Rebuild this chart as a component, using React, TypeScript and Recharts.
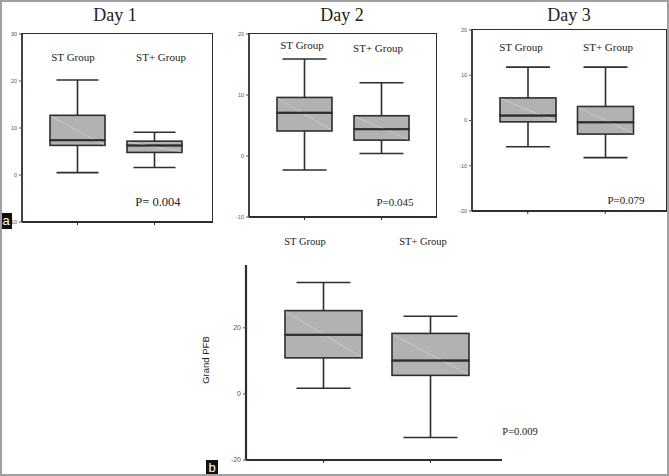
import { BarChart, Bar, XAxis, YAxis } from 'recharts'

const groups = ['ST Group', 'ST+ Group']

// Day 1
const day1Min = [0.5, 1.6]
const day1Q1 = [6.3, 4.8]
const day1Median = [7.4, 6.3]
const day1Q3 = [12.7, 7.2]
const day1Max = [20.2, 9.1]

// Day 2
const day2Min = [-2.3, 0.4]
const day2Q1 = [4.1, 2.6]
const day2Median = [7.1, 4.4]
const day2Q3 = [9.6, 6.6]
const day2Max = [15.9, 12.0]

// Day 3
const day3Min = [-5.8, -8.2]
const day3Q1 = [-0.3, -3.0]
const day3Median = [1.1, -0.4]
const day3Q3 = [5.0, 3.1]
const day3Max = [11.8, 11.8]

// Grand PFB
const grandMin = [1.7, -13.2]
const grandQ1 = [10.9, 5.6]
const grandMedian = [17.9, 10.1]
const grandQ3 = [25.2, 18.3]
const grandMax = [33.7, 23.5]

const INK = '#2e2e2e'
const BOX_FILL = '#b2b2b2'

type Row = { name: string; base: number; lowW: number; lowBox: number; highBox: number; highW: number }

function buildRows(min: number[], q1: number[], med: number[], q3: number[], max: number[]): Row[] {
  return groups.map((name, i) => ({
    name,
    base: min[i],
    lowW: q1[i] - min[i],
    lowBox: med[i] - q1[i],
    highBox: q3[i] - med[i],
    highW: max[i] - q3[i],
  }))
}

const lowWhisker = (cap: number) => (p: any) => {
  const cx = p.x + p.width / 2
  const bottom = p.y + p.height
  return (
    <g>
      <line x1={cx} x2={cx} y1={p.y} y2={bottom} stroke={INK} strokeWidth={1.6} />
      <line x1={cx - cap / 2} x2={cx + cap / 2} y1={bottom} y2={bottom} stroke={INK} strokeWidth={1.6} />
    </g>
  )
}

const highWhisker = (cap: number) => (p: any) => {
  const cx = p.x + p.width / 2
  return (
    <g>
      <line x1={cx} x2={cx} y1={p.y} y2={p.y + p.height} stroke={INK} strokeWidth={1.6} />
      <line x1={cx - cap / 2} x2={cx + cap / 2} y1={p.y} y2={p.y} stroke={INK} strokeWidth={1.6} />
    </g>
  )
}

function LowBox(p: any) {
  const row = p.payload as Row
  const full = row.lowBox > 0 ? p.height * (row.lowBox + row.highBox) / row.lowBox : p.height
  const topY = p.y + p.height - full
  return (
    <g>
      <rect x={p.x} y={p.y} width={p.width} height={p.height} fill={BOX_FILL} stroke={INK} strokeWidth={1.6} />
      <line x1={p.x + 1} y1={topY + 1} x2={p.x + p.width - 1} y2={p.y + p.height - 1} stroke="#cfcfcf" strokeWidth={0.8} />
    </g>
  )
}

function HighBox(p: any) {
  const row = p.payload as Row
  const full = row.highBox > 0 ? p.height * (row.lowBox + row.highBox) / row.highBox : p.height
  const bottom = p.y + p.height
  return (
    <g>
      <rect x={p.x} y={p.y} width={p.width} height={p.height} fill={BOX_FILL} stroke={INK} strokeWidth={1.6} />
      <line x1={p.x + 1} y1={p.y + 1} x2={p.x + p.width * (p.height / full)} y2={bottom} stroke="#cfcfcf" strokeWidth={0.8} />
      <line x1={p.x} x2={p.x + p.width} y1={bottom} y2={bottom} stroke={INK} strokeWidth={2} />
    </g>
  )
}

type PanelProps = {
  rows: Row[]
  left: number
  top: number
  width: number
  height: number
  domain: [number, number]
  ticks: number[]
  padLeft: number
  padRight: number
  boxWidth: number
  capWidth: number
  framed: boolean
  tickFont: number
}

function BoxPanel(props: PanelProps) {
  const { rows, left, top, width, height, domain, ticks, padLeft, padRight, boxWidth, capWidth, framed, tickFont } = props
  const chartW = width + 40
  const chartH = height + 20
  const axisStyle = { stroke: INK, strokeWidth: framed ? 1.8 : 2.2 }
  return (
    <>
      <div style={{ position: 'absolute', left: left - 30, top: top - 8, width: chartW, height: chartH }}>
        <BarChart width={chartW} height={chartH} data={rows} barSize={boxWidth}
          margin={{ top: 8, right: 10, left: 0, bottom: 0 }}>
          <XAxis dataKey="name" height={12} padding={{ left: padLeft, right: padRight }}
            tickSize={3} tickFormatter={() => ''} axisLine={axisStyle} tickLine={{ stroke: INK }} />
          <YAxis type="number" domain={domain} ticks={ticks} width={30} tickSize={3}
            allowDataOverflow interval={0}
            tick={{ fontSize: tickFont, fill: '#555', fontFamily: '"Liberation Sans", Arial, sans-serif' }}
            axisLine={axisStyle} tickLine={{ stroke: '#555' }} />
          <Bar dataKey="base" stackId="box" fill="none" isAnimationActive={false} />
          <Bar dataKey="lowW" stackId="box" shape={lowWhisker(capWidth)} isAnimationActive={false} />
          <Bar dataKey="lowBox" stackId="box" shape={LowBox} isAnimationActive={false} />
          <Bar dataKey="highBox" stackId="box" shape={HighBox} isAnimationActive={false} />
          <Bar dataKey="highW" stackId="box" shape={highWhisker(capWidth)} isAnimationActive={false} />
        </BarChart>
      </div>
      {framed && (
        <div style={{
          position: 'absolute', left: left - 1, top: top - 1, width: width + 2, height: height + 2,
          borderTop: `1.8px solid ${INK}`, borderRight: `1.8px solid ${INK}`, boxSizing: 'border-box', pointerEvents: 'none',
        }} />
      )}
    </>
  )
}

function Txt({ x, y, size, children, sans }: { x: number; y: number; size: number; children: string; sans?: boolean }) {
  return (
    <div style={{
      position: 'absolute', left: x, top: y, transform: 'translate(-50%, -50%)',
      fontSize: size, lineHeight: 1, whiteSpace: 'nowrap', color: '#222',
      fontFamily: sans ? '"Liberation Sans", Arial, sans-serif' : '"Liberation Serif", "Times New Roman", serif',
    }}>{children}</div>
  )
}

function Tag({ x, y, children }: { x: number; y: number; children: string }) {
  return (
    <div style={{
      position: 'absolute', left: x, top: y, width: 12, height: 16, background: '#111', color: '#fff',
      fontFamily: '"Liberation Sans", Arial, sans-serif', fontSize: 13, lineHeight: '15px', textAlign: 'center',
    }}>{children}</div>
  )
}

export default function App() {
  return (
    <div style={{ position: 'absolute', left: 0, top: 0, width: 669, height: 476, background: '#fff', overflow: 'hidden' }}>
      <BoxPanel rows={buildRows(day1Min, day1Q1, day1Median, day1Q3, day1Max)}
        left={22} top={34} width={190} height={188} domain={[-10, 30]} ticks={[-10, 0, 10, 20, 30]}
        padLeft={17} padRight={19} boxWidth={55} capWidth={42} framed tickFont={5.5} />
      <BoxPanel rows={buildRows(day2Min, day2Q1, day2Median, day2Q3, day2Max)}
        left={249} top={34} width={187} height={183} domain={[-10, 20]} ticks={[-10, 0, 10, 20]}
        padLeft={17} padRight={16} boxWidth={55} capWidth={44} framed tickFont={5.5} />
      <BoxPanel rows={buildRows(day3Min, day3Q1, day3Median, day3Q3, day3Max)}
        left={472} top={30} width={194} height={181} domain={[-20, 20]} ticks={[-20, -10, 0, 10, 20]}
        padLeft={17} padRight={22} boxWidth={56} capWidth={44} framed tickFont={5.5} />
      <BoxPanel rows={buildRows(grandMin, grandQ1, grandMedian, grandQ3, grandMax)}
        left={246} top={265} width={256} height={195} domain={[-20, 39]} ticks={[-20, 0, 20]}
        padLeft={24} padRight={18} boxWidth={77} capWidth={54} framed={false} tickFont={7} />

      <Txt x={115} y={15} size={18}>Day 1</Txt>
      <Txt x={342} y={15} size={18}>Day 2</Txt>
      <Txt x={569} y={15} size={18}>Day 3</Txt>

      <Txt x={73} y={57} size={11}>ST Group</Txt>
      <Txt x={161} y={57} size={11}>ST+ Group</Txt>
      <Txt x={158} y={202} size={12.5}>P= 0.004</Txt>

      <Txt x={302} y={45} size={11}>ST Group</Txt>
      <Txt x={378} y={48} size={11}>ST+ Group</Txt>
      <Txt x={395} y={202} size={11}>P=0.045</Txt>

      <Txt x={521} y={47} size={11}>ST Group</Txt>
      <Txt x={608} y={47} size={11}>ST+ Group</Txt>
      <Txt x={626} y={200} size={11}>P=0.079</Txt>

      <Txt x={305} y={242} size={10.5}>ST Group</Txt>
      <Txt x={423} y={242} size={10.5}>ST+ Group</Txt>
      <Txt x={520} y={432} size={10.5}>P=0.009</Txt>

      <div style={{
        position: 'absolute', left: 205, top: 360, transform: 'translate(-50%, -50%) rotate(-90deg)',
        fontFamily: '"Liberation Sans", Arial, sans-serif', fontSize: 9.5, whiteSpace: 'nowrap', color: '#222',
      }}>Grand PFB</div>

      <Tag x={0} y={213}>a</Tag>
      <Tag x={206} y={460}>b</Tag>

      <div style={{ position: 'absolute', left: 0, top: 0, width: 669, height: 476, border: '2px solid #a0a0a0', boxSizing: 'border-box', pointerEvents: 'none' }} />
    </div>
  )
}
